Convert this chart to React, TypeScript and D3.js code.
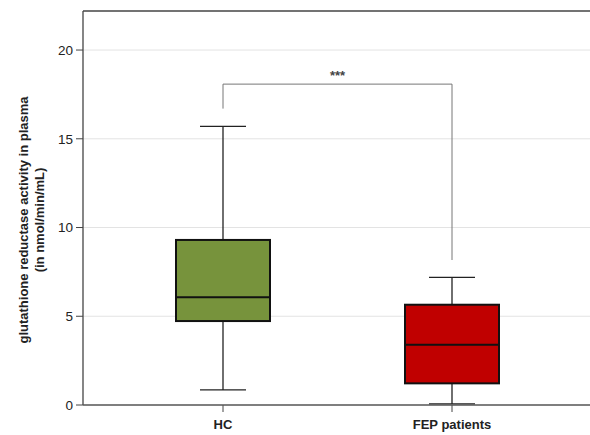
import React from "react";
import * as d3 from "d3";

const categories = ["HC", "FEP patients"];
const whiskerLow = [0.85, 0.06];
const q1 = [4.73, 1.22];
const median = [6.07, 3.4];
const q3 = [9.3, 5.65];
const whiskerHigh = [15.7, 7.19];
const fills = ["#77933C", "#C00000"];
const yTicks = [0, 5, 10, 15, 20];
const bracketTop = 18.08;
const bracketLegs = [16.7, 8.17];
const sigLabel = "***";

const W = 590, H = 435;
const left = 83, right = 590, top = 11, bottom = 405;

export default function App() {
  const y = d3.scaleLinear().domain([0, 22.2]).range([bottom, top]);
  const x = d3.scalePoint().domain(categories).range([223, 452]);
  const boxW = 94;
  const capW = 46;
  const font = "'Liberation Sans', Arial, sans-serif";
  return (
    <svg width={W} height={H} style={{ position: "absolute", left: 0, top: 0, background: "#fff" }} fontFamily={font}>
      {yTicks.filter(t => t > 0).map(t => (
        <line key={"g" + t} x1={left} x2={right} y1={y(t)} y2={y(t)} stroke="#e3e3e3" strokeWidth={1} />
      ))}
      {yTicks.map(t => (
        <g key={"t" + t}>
          <line x1={left - 7} x2={left} y1={y(t)} y2={y(t)} stroke="#444" strokeWidth={1} />
          <text x={left - 10} y={y(t)} dy="0.35em" textAnchor="end" fontSize={13.5} fill="#222">{t}</text>
        </g>
      ))}
      {/* bracket */}
      <path
        d={`M${x(categories[0])},${y(bracketLegs[0])} V${y(bracketTop)} H${x(categories[1])} V${y(bracketLegs[1])}`}
        fill="none" stroke="#777" strokeWidth={1} />
      <text x={((x(categories[0]) as number) + (x(categories[1]) as number)) / 2} y={y(bracketTop) - 4} textAnchor="middle" fontSize={13} fontWeight="bold" fill="#444">{sigLabel}</text>
      {categories.map((c, i) => {
        const cx = x(c) as number;
        return (
          <g key={c}>
            <line x1={cx} x2={cx} y1={y(whiskerLow[i])} y2={y(q1[i])} stroke="#222" strokeWidth={1.3} />
            <line x1={cx} x2={cx} y1={y(q3[i])} y2={y(whiskerHigh[i])} stroke="#222" strokeWidth={1.3} />
            <line x1={cx - capW / 2} x2={cx + capW / 2} y1={y(whiskerLow[i])} y2={y(whiskerLow[i])} stroke="#222" strokeWidth={1.3} />
            <line x1={cx - capW / 2} x2={cx + capW / 2} y1={y(whiskerHigh[i])} y2={y(whiskerHigh[i])} stroke="#222" strokeWidth={1.3} />
            <rect x={cx - boxW / 2} y={y(q3[i])} width={boxW} height={y(q1[i]) - y(q3[i])} fill={fills[i]} stroke="#111" strokeWidth={2} />
            <line x1={cx - boxW / 2} x2={cx + boxW / 2} y1={y(median[i])} y2={y(median[i])} stroke="#111" strokeWidth={2} />
            <line x1={cx} x2={cx} y1={bottom} y2={bottom + 7} stroke="#444" strokeWidth={1} />
            <text x={cx} y={bottom + 24} textAnchor="middle" fontSize={13} fontWeight="bold" fill="#222">{c}</text>
          </g>
        );
      })}
      {/* frame */}
      <line x1={left} x2={right} y1={top} y2={top} stroke="#444" strokeWidth={1.3} />
      <line x1={left} x2={left} y1={top} y2={bottom} stroke="#444" strokeWidth={1.3} />
      <line x1={left} x2={right} y1={bottom} y2={bottom} stroke="#555" strokeWidth={1.5} />
      <g transform={`translate(35, 220) rotate(-90)`}>
        <text x={0} y={-7} textAnchor="middle" fontSize={13} fontWeight="bold" fill="#222">glutathione reductase activity in plasma</text>
        <text x={0} y={9} textAnchor="middle" fontSize={13} fontWeight="bold" fill="#222">(in nmol/min/mL)</text>
      </g>
    </svg>
  );
}
